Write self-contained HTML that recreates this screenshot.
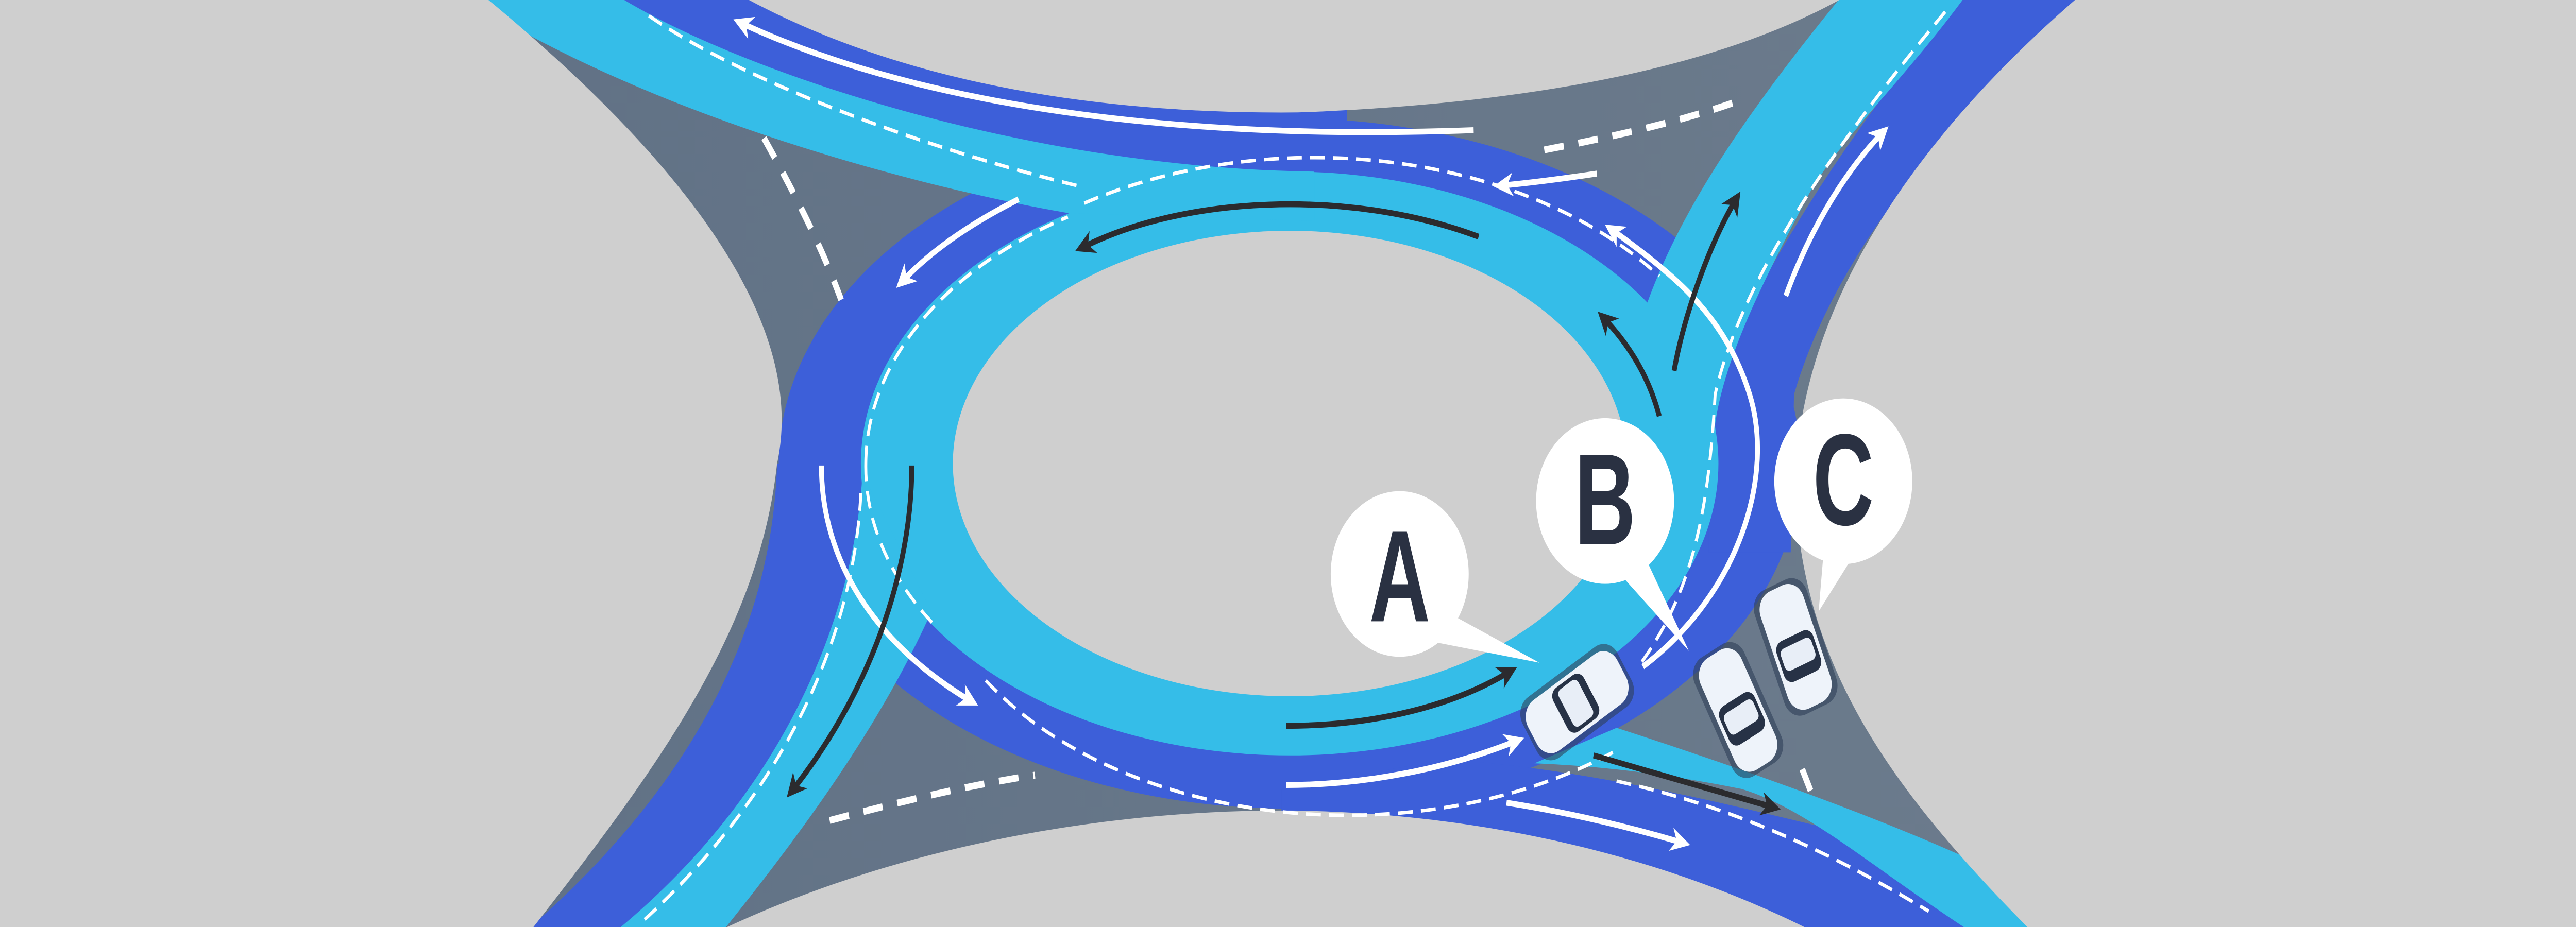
<!DOCTYPE html>
<html><head><meta charset="utf-8"><style>
html,body{margin:0;padding:0;background:#cfcfcf;width:100vw;height:100vh;overflow:hidden;}
svg{display:block;position:fixed;left:0;top:0;width:100vw;height:100vh;}
</style></head><body>
<svg viewBox="0 0 1568 470" preserveAspectRatio="none" xmlns="http://www.w3.org/2000/svg">
<defs>
<marker id="aw" viewBox="0 0 10 10" refX="5" refY="5" markerWidth="4" markerHeight="4" orient="auto-start-reverse"><path d="M0 0 L10 5 L0 10 L3 5 Z" fill="#fff"/></marker>
<marker id="ab" viewBox="0 0 10 10" refX="5" refY="5" markerWidth="4" markerHeight="4" orient="auto-start-reverse"><path d="M0 0 L10 5 L0 10 L3 5 Z" fill="#2b2b2e"/></marker>
<linearGradient id="gr" x1="0" x2="1" y1="0" y2="0"><stop offset="0" stop-color="#5e6f84"/><stop offset="1" stop-color="#6f7e8e"/></linearGradient>
</defs>
<rect width="1568" height="470" fill="url(#gr)"/>
<g fill="#3d5fd9">
<ellipse cx="785" cy="235" rx="311" ry="175"/>
<path d="M360 -5 L620 -5 L820 40 L820 100 L500 70 Z"/>
<path d="M473 235 C470 320 420 400 320 472 L420 472 C490 400 525 320 527 235 Z"/>
<path d="M1199 -5 L1272 -5 C1200 50 1120 120 1092 200 L1090 280 L1040 280 L1040 200 C1080 120 1150 40 1199 -5 Z"/>
<path d="M880 385 C1000 392 1100 420 1209 438 L1300 475 L780 475 L780 400 Z"/>
</g>
<g fill="#35bde8">
<ellipse cx="785" cy="235" rx="261" ry="148"/>
<path d="M285 0 L380 0 C450 35 620 85 800 87 L800 112 L650 108 C560 95 400 60 285 0 Z"/>
<path d="M525 240 C520 310 480 400 375 472 L440 472 C500 410 540 360 567 310 Z"/>
<path d="M1124 -5 L1199 -5 C1160 40 1120 70 1100 100 C1075 140 1050 180 1044 215 L1044 250 L1000 200 L1000 160 C1020 110 1060 60 1124 -5 Z"/>
<path d="M984 369 C1080 395 1160 420 1210 440 L1292 472 L1199 472 C1140 440 1100 410 1060 400 C1000 390 960 388 934 387 Z"/>
</g>
<g fill="#cfcfcf">
<path d="M-5 -5 L290 -5 C430 90 490 170 473 235 C462 320 400 390 320 475 L-5 475 Z"/>
<path d="M1573 -5 L1270 -5 C1150 80 1090 170 1093 255 C1100 340 1150 400 1240 475 L1573 475 Z"/>
<path d="M445 -5 L1130 -5 C1060 30 950 52 790 57 C660 58 540 40 445 -5 Z"/>
<path d="M430 475 C560 422 700 410 790 411 C920 413 1030 440 1110 475 Z"/>
<ellipse cx="785" cy="235" rx="205" ry="118"/>
</g>
<g fill="none" stroke="#fff" stroke-width="1.8" stroke-dasharray="9 5">
<path d="M527 235 A261 148 0 0 1 650 110"/>
<path d="M527 235 A261 148 0 0 0 570 318"/>
<path d="M600 345 A261 148 0 0 0 985 380"/>
<path d="M660 103 A261 148 0 0 1 1010 140"/>
<path d="M395 8 C450 40 560 75 660 95"/>
<path d="M524 250 C520 320 480 400 390 468"/>
<path d="M1184 6 C1120 70 1060 140 1044 200 C1040 260 1030 300 999 336"/>
<path d="M984 396 C1060 410 1120 435 1174 462"/>
</g>
<g fill="none" stroke="#fff" stroke-width="3.5" stroke-dasharray="12 9">
<path d="M940 76 C990 68 1030 60 1062 50"/>
<path d="M505 416 C550 406 590 398 630 393"/>
<path d="M465 70 C485 100 500 125 512 152"/>
<path d="M1097 390 L1104 405"/>
</g>
<g fill="none" stroke="#fff" stroke-width="3" marker-end="url(#aw)">
<path d="M897 66 C700 72 550 50 452 12"/>
<path d="M972 88 Q940 92 915 94"/>
<path d="M620 101 Q575 120 550 142"/>
<path d="M500 236 C500 290 540 330 590 355"/>
<path d="M783 398 C830 398 880 390 922 376"/>
<path d="M917 407 Q970 414 1023 427"/>
<path d="M1000 338 C1060 300 1080 240 1065 200 C1050 160 1020 140 982 117"/>
<path d="M1087 150 C1100 120 1120 90 1145 68"/>
</g>
<g fill="none" stroke="#2b2b2e" stroke-width="3" marker-end="url(#ab)">
<path d="M900 120 C820 95 720 100 660 125"/>
<path d="M555 236 C555 290 530 350 483 400"/>
<path d="M783 368 C830 368 880 360 918 341"/>
<path d="M970 383 L1078 409"/>
<path d="M1010 211 C1005 195 995 178 977 162"/>
<path d="M1019 188 C1025 160 1040 125 1056 102"/>
</g>
<g fill="#fff">
<circle cx="852" cy="291" r="42"/><path d="M880 310 L937 336 L870 325 Z"/>
<circle cx="977" cy="254" r="42"/><path d="M985 290 L1028 330 L1000 280 Z"/>
<circle cx="1122" cy="244" r="42"/><path d="M1110 280 L1107 310 L1128 282 Z"/>
</g>
<g font-family="'Liberation Sans',sans-serif" font-weight="bold" font-size="66" fill="#2a3142" text-anchor="middle">
<text transform="translate(852 315) scale(0.78 1)">A</text>
<text transform="translate(977 276) scale(0.78 1)">B</text>
<text transform="translate(1122 266) scale(0.78 1)">C</text>
</g>
<g transform="translate(960 356) rotate(-32)">
<rect x="-34" y="-18" width="68" height="36" rx="10" fill="#2f3f58" opacity="0.6"/>
<rect x="-32" y="-15" width="64" height="30" rx="10" fill="#eef3fa"/>
<rect x="-12" y="-13" width="22" height="26" rx="5" fill="#273246"/>
<rect x="-8" y="-11" width="14" height="22" rx="3" fill="#e8eef7"/>
</g>
<g transform="translate(1058 360) rotate(62)">
<rect x="-34" y="-17" width="68" height="34" rx="10" fill="#2f3f58" opacity="0.6"/>
<rect x="-32" y="-14" width="64" height="28" rx="10" fill="#eef3fa"/>
<rect x="-6" y="-12" width="22" height="24" rx="5" fill="#273246"/>
<rect x="-2" y="-10" width="12" height="20" rx="3" fill="#e8eef7"/>
</g>
<g transform="translate(1093 328) rotate(68)">
<rect x="-34" y="-17" width="68" height="34" rx="10" fill="#2f3f58" opacity="0.6"/>
<rect x="-32" y="-14" width="64" height="28" rx="10" fill="#eef3fa"/>
<rect x="-6" y="-12" width="22" height="24" rx="5" fill="#273246"/>
<rect x="-2" y="-10" width="12" height="20" rx="3" fill="#e8eef7"/>
</g>
</svg>
</body></html>
